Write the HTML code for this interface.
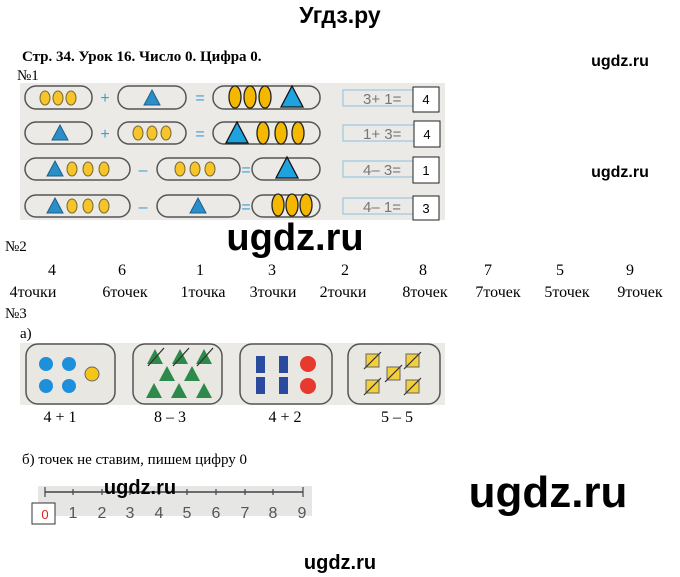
<!DOCTYPE html>
<html><head><meta charset="utf-8"><style>
body{margin:0;background:#fff;width:680px;height:577px;overflow:hidden}
svg{display:block}
.t{font-family:"Liberation Serif",serif;fill:#000}
.w{font-family:"Liberation Sans",sans-serif;font-weight:bold;fill:#000}
</style></head><body>
<svg width="680" height="577" viewBox="0 0 680 577" xmlns="http://www.w3.org/2000/svg">
<defs>
<g id="ov"><ellipse rx="5" ry="7" fill="#f7c52a" stroke="#7a6a30" stroke-width="1"/></g>
<g id="bo"><ellipse rx="6" ry="11" fill="#f5b800" stroke="#222" stroke-width="1.3"/></g>
<g id="tr"><polygon points="0,-8 8,7 -8,7" fill="#2a8fc9" stroke="#1f5f86" stroke-width="1"/></g>
<g id="bt"><polygon points="0,-11 11,10 -11,10" fill="#1fa3e0" stroke="#111" stroke-width="1.3"/></g>
</defs>
<text x="340" y="23" text-anchor="middle" class="w" style="font-size:23px">Угдз.ру</text>
<text x="22" y="61" class="t" style="font-size:15px;font-weight:bold">Стр. 34. Урок 16. Число 0. Цифра 0.</text>
<text x="620" y="66" text-anchor="middle" class="w" style="font-size:16px">ugdz.ru</text>
<text x="17" y="80" class="t" style="font-size:15px">№1</text>
<rect x="20" y="83" width="425" height="137" fill="#ebeae6"/>
<g fill="none" stroke="#555" stroke-width="1.5">
<rect x="25" y="86" width="67" height="23" rx="11"/><rect x="118" y="86" width="68" height="23" rx="11"/><rect x="213" y="86" width="107" height="23" rx="11"/>
<rect x="25" y="122" width="67" height="22" rx="11"/><rect x="118" y="122" width="68" height="22" rx="11"/><rect x="213" y="122" width="107" height="22" rx="11"/>
<rect x="25" y="158" width="105" height="22" rx="11"/><rect x="157" y="158" width="83" height="22" rx="11"/><rect x="252" y="158" width="68" height="22" rx="11"/>
<rect x="25" y="195" width="105" height="22" rx="11"/><rect x="157" y="195" width="83" height="22" rx="11"/><rect x="252" y="195" width="68" height="22" rx="11"/>
</g>
<g font-family="Liberation Sans" font-size="16" fill="#3aa0d0" text-anchor="middle">
<text x="105" y="103">+</text><text x="200" y="103">=</text>
<text x="105" y="139">+</text><text x="200" y="139">=</text>
<text x="143" y="175">–</text><text x="246" y="175">=</text>
<text x="143" y="212">–</text><text x="246" y="212">=</text>
</g>
<use href="#ov" x="45" y="98"/><use href="#ov" x="58" y="98"/><use href="#ov" x="71" y="98"/>
<use href="#tr" x="152" y="98"/>
<use href="#bo" x="235" y="97"/><use href="#bo" x="250" y="97"/><use href="#bo" x="265" y="97"/><use href="#bt" x="292" y="97"/>
<use href="#tr" x="60" y="133"/>
<use href="#ov" x="138" y="133"/><use href="#ov" x="152" y="133"/><use href="#ov" x="166" y="133"/>
<use href="#bt" x="237" y="133"/><use href="#bo" x="263" y="133"/><use href="#bo" x="281" y="133"/><use href="#bo" x="298" y="133"/>
<use href="#tr" x="55" y="169"/><use href="#ov" x="72" y="169"/><use href="#ov" x="88" y="169"/><use href="#ov" x="104" y="169"/>
<use href="#ov" x="180" y="169"/><use href="#ov" x="195" y="169"/><use href="#ov" x="210" y="169"/>
<use href="#bt" x="287" y="168"/>
<use href="#tr" x="55" y="206"/><use href="#ov" x="72" y="206"/><use href="#ov" x="88" y="206"/><use href="#ov" x="104" y="206"/>
<use href="#tr" x="198" y="206"/>
<use href="#bo" x="278" y="205"/><use href="#bo" x="292" y="205"/><use href="#bo" x="306" y="205"/>
<g fill="none" stroke="#8cc0e0" stroke-width="1">
<rect x="343" y="90" width="95" height="16"/><rect x="343" y="125" width="95" height="16"/><rect x="343" y="161" width="95" height="16"/><rect x="343" y="198" width="95" height="16"/>
</g>
<g font-family="Liberation Sans" font-size="15" fill="#777">
<text x="363" y="104">3+ 1=</text><text x="363" y="139">1+ 3=</text><text x="363" y="175">4– 3=</text><text x="363" y="212">4– 1=</text>
</g>
<g fill="#fff" stroke="#222" stroke-width="1">
<rect x="413" y="87" width="26" height="25"/><rect x="414" y="121" width="26" height="26"/><rect x="413" y="157" width="26" height="26"/><rect x="413" y="196" width="26" height="24"/>
</g>
<g font-family="Liberation Sans" font-size="13" text-anchor="middle">
<text x="426" y="104">4</text><text x="427" y="139">4</text><text x="426" y="175">1</text><text x="426" y="213">3</text>
</g>
<text x="620" y="177" text-anchor="middle" class="w" style="font-size:16px">ugdz.ru</text>
<text x="295" y="250" text-anchor="middle" class="w" style="font-size:38px">ugdz.ru</text>
<text x="5" y="251" class="t" style="font-size:15px">№2</text>
<g class="t" style="font-size:16px" text-anchor="middle">
<text x="52" y="275">4</text><text x="122" y="275">6</text><text x="200" y="275">1</text><text x="272" y="275">3</text><text x="345" y="275">2</text><text x="423" y="275">8</text><text x="488" y="275">7</text><text x="560" y="275">5</text><text x="630" y="275">9</text>
<text x="33" y="297">4точки</text><text x="125" y="297">6точек</text><text x="203" y="297">1точка</text><text x="273" y="297">3точки</text><text x="343" y="297">2точки</text><text x="425" y="297">8точек</text><text x="498" y="297">7точек</text><text x="567" y="297">5точек</text><text x="640" y="297">9точек</text>
</g>
<text x="5" y="318" class="t" style="font-size:15px">№3</text>
<text x="20" y="338" class="t" style="font-size:15px">а)</text>
<rect x="20" y="343" width="425" height="62" fill="#ebeae6"/>
<g fill="#e8e7e2" stroke="#555" stroke-width="1.5">
<rect x="26" y="344" width="89" height="60" rx="12"/><rect x="133" y="344" width="89" height="60" rx="12"/><rect x="240" y="344" width="92" height="60" rx="12"/><rect x="348" y="344" width="92" height="60" rx="12"/>
</g>
<g fill="#1e8fdb"><circle cx="46" cy="364" r="7"/><circle cx="69" cy="364" r="7"/><circle cx="46" cy="386" r="7"/><circle cx="69" cy="386" r="7"/></g>
<circle cx="92" cy="374" r="7" fill="#f5c518" stroke="#666"/>
<g fill="#2e8a4a">
<polygon points="155,349 163,364 147,364"/><polygon points="180,349 188,364 172,364"/><polygon points="204,349 212,364 196,364"/>
<polygon points="167,366 175,381 159,381"/><polygon points="192,366 200,381 184,381"/>
<polygon points="154,383 162,398 146,398"/><polygon points="179,383 187,398 171,398"/><polygon points="204,383 212,398 196,398"/>
</g>
<g stroke="#333" stroke-width="1.3"><line x1="148" y1="366" x2="164" y2="348"/><line x1="173" y1="366" x2="189" y2="348"/><line x1="197" y1="366" x2="213" y2="348"/></g>
<g fill="#2a4aa0"><rect x="256" y="356" width="9" height="17"/><rect x="279" y="356" width="9" height="17"/><rect x="256" y="377" width="9" height="17"/><rect x="279" y="377" width="9" height="17"/></g>
<g fill="#e8392e"><circle cx="308" cy="364" r="8"/><circle cx="308" cy="386" r="8"/></g>
<g fill="#f3cf3a" stroke="#666"><rect x="366" y="354" width="13" height="13"/><rect x="406" y="354" width="13" height="13"/><rect x="387" y="367" width="13" height="13"/><rect x="366" y="380" width="13" height="13"/><rect x="406" y="380" width="13" height="13"/></g>
<g stroke="#333" stroke-width="1.2"><line x1="364" y1="369" x2="381" y2="352"/><line x1="404" y1="369" x2="421" y2="352"/><line x1="385" y1="382" x2="402" y2="365"/><line x1="364" y1="395" x2="381" y2="378"/><line x1="404" y1="395" x2="421" y2="378"/></g>
<g class="t" style="font-size:16px" text-anchor="middle">
<text x="60" y="422">4 + 1</text><text x="170" y="422">8 – 3</text><text x="285" y="422">4 + 2</text><text x="397" y="422">5 – 5</text>
</g>
<text x="22" y="464" class="t" style="font-size:15px">б) точек не ставим, пишем цифру 0</text>
<rect x="38" y="486" width="274" height="30" fill="#e6e6e4"/>
<line x1="45" y1="492" x2="303" y2="492" stroke="#444" stroke-width="1.5"/>
<g stroke="#444" stroke-width="1.2">
<line x1="45" y1="487" x2="45" y2="497"/><line x1="73" y1="489" x2="73" y2="495"/><line x1="102" y1="489" x2="102" y2="495"/><line x1="130" y1="489" x2="130" y2="495"/><line x1="159" y1="489" x2="159" y2="495"/><line x1="187" y1="489" x2="187" y2="495"/><line x1="216" y1="489" x2="216" y2="495"/><line x1="245" y1="489" x2="245" y2="495"/><line x1="273" y1="489" x2="273" y2="495"/><line x1="303" y1="487" x2="303" y2="497"/>
</g>
<rect x="32" y="503" width="23" height="21" fill="#fff" stroke="#333"/>
<text x="45" y="519" text-anchor="middle" font-family="Liberation Sans" font-size="13" fill="#e02020">0</text>
<g font-family="Liberation Sans" font-size="16" fill="#555" text-anchor="middle">
<text x="73" y="518">1</text><text x="102" y="518">2</text><text x="130" y="518">3</text><text x="159" y="518">4</text><text x="187" y="518">5</text><text x="216" y="518">6</text><text x="245" y="518">7</text><text x="273" y="518">8</text><text x="302" y="518">9</text>
</g>
<text x="140" y="494" text-anchor="middle" class="w" style="font-size:20px">ugdz.ru</text>
<text x="548" y="507" text-anchor="middle" class="w" style="font-size:44px">ugdz.ru</text>
<text x="340" y="569" text-anchor="middle" class="w" style="font-size:20px">ugdz.ru</text>
</svg>
</body></html>
